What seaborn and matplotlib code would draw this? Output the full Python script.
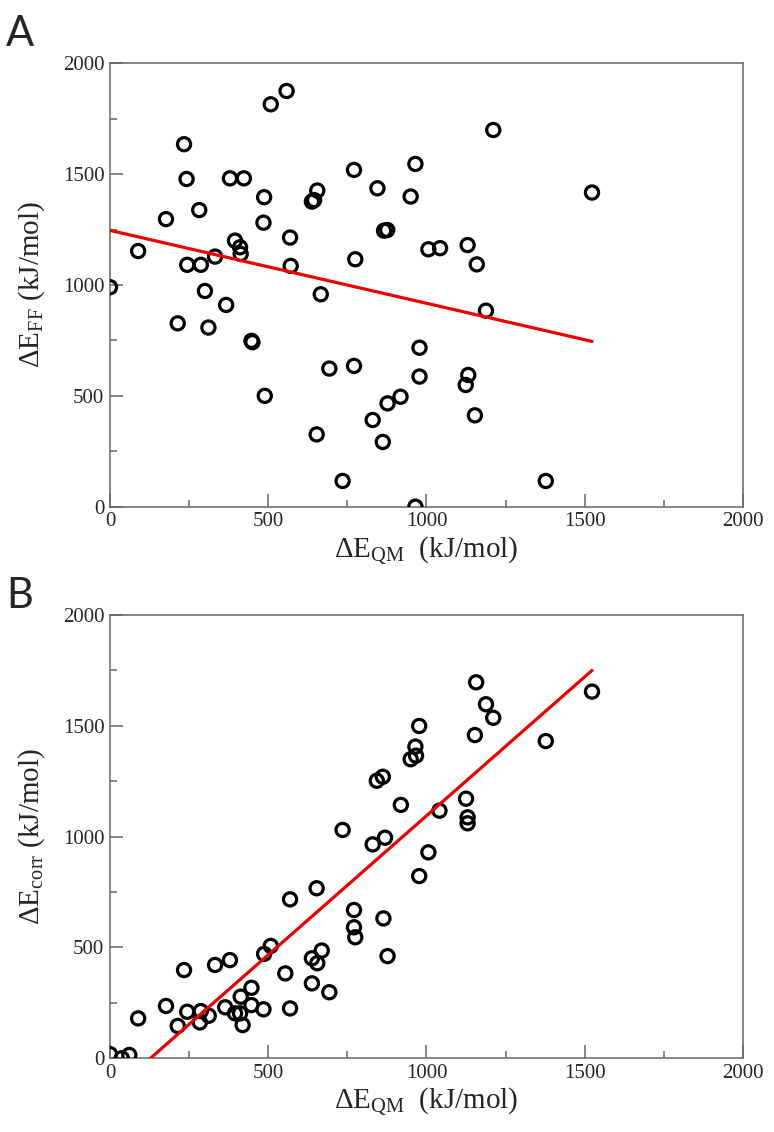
"""
Two-panel scatter: force-field / corrected energies vs QM energies with linear fits.
"""
import numpy as np
import pandas as pd
import matplotlib
matplotlib.use("Agg")
import matplotlib.pyplot as plt
from matplotlib.ticker import MultipleLocator
import seaborn as sns

# Panel A: dE_QM vs dE_FF (kJ/mol)
qm_a = [558, 508, 234, 242, 379, 423, 771, 965, 845, 950, 655, 638, 645, 487,
        282, 177, 485, 866, 876, 569, 395, 411, 413, 89, 332, 775, 1006, 1043,
        1130, 1159, 1211, 1523, 244, 287, 571, 0, 300, 367, 666, 214, 311, 447,
        450, 978, 693, 771, 978, 489, 918, 877, 830, 653, 862, 735, 965, 1188,
        1132, 1124, 1153, 1377]
ff_a = [1875, 1815, 1635, 1478, 1481, 1481, 1519, 1546, 1436, 1399, 1426, 1376,
        1383, 1396, 1338, 1297, 1281, 1245, 1248, 1214, 1200, 1170, 1140, 1153,
        1128, 1116, 1161, 1166, 1180, 1093, 1699, 1417, 1091, 1091, 1086, 990,
        973, 910, 958, 827, 808, 748, 742, 717, 623, 635, 587, 500, 496, 466,
        391, 326, 292, 116, 0, 884, 594, 549, 412, 116]

# Panel B: dE_QM vs dE_corr (kJ/mol)
qm_b = [977, 965, 967, 950, 862, 843, 919, 735, 830, 869, 1006, 1041, 1157,
        1188, 1211, 1153, 1523, 1377, 1125, 1130, 1130, 977, 653, 569, 771, 864,
        771, 775, 877, 508, 487, 669, 638, 655, 554, 638, 693, 379, 332, 234,
        447, 413, 447, 364, 177, 244, 287, 312, 284, 395, 411, 419, 485, 569,
        214, 89, 0, 37, 61]
corr_b = [1499, 1406, 1365, 1349, 1270, 1252, 1143, 1030, 965, 995, 929, 1117,
          1696, 1597, 1536, 1458, 1654, 1431, 1171, 1087, 1060, 822, 767, 717,
          669, 631, 591, 546, 461, 507, 471, 486, 451, 429, 383, 338, 298, 443,
          421, 398, 318, 278, 240, 230, 236, 210, 213, 192, 162, 203, 203, 150,
          221, 225, 146, 180, 19, 0, 15]

df_a = pd.DataFrame({"qm": qm_a, "val": ff_a})
df_b = pd.DataFrame({"qm": qm_b, "val": corr_b})

sns.set_style("white")
plt.rcParams["font.family"] = ["Liberation Serif", "DejaVu Serif"]
plt.rcParams["mathtext.fontset"] = "custom"
plt.rcParams["mathtext.rm"] = "Liberation Serif"
plt.rcParams["mathtext.it"] = "Liberation Serif:italic"

fig = plt.figure(figsize=(7.74, 11.32), dpi=100)
ax_a = fig.add_axes([0.1421, 0.5524, 0.8178, 0.3917])
ax_b = fig.add_axes([0.1421, 0.0651, 0.8178, 0.3917])

spine_col = "#666666"
panels = [(ax_a, df_a, "ΔE$_{\\mathrm{FF}}$ (kJ/mol)", "A", 0.987),
          (ax_b, df_b, "ΔE$_{\\mathrm{corr}}$ (kJ/mol)", "B", 0.490)]

for ax, df, ylab, letter, ytxt in panels:
    sns.regplot(data=df, x="qm", y="val", ax=ax, ci=None, truncate=True,
                scatter_kws=dict(s=90, facecolors="none", edgecolors="black",
                                 linewidths=2.3, alpha=1, zorder=3),
                line_kws=dict(color="#ee0000", lw=2.3, zorder=4))
    ax.set_xlim(0, 2000)
    ax.set_ylim(0, 2000)
    ax.xaxis.set_major_locator(MultipleLocator(500))
    ax.yaxis.set_major_locator(MultipleLocator(500))
    ax.xaxis.set_minor_locator(MultipleLocator(250))
    ax.yaxis.set_minor_locator(MultipleLocator(250))
    ax.tick_params(which="both", direction="in", top=False, right=False,
                   bottom=True, left=True, color=spine_col, width=1.1,
                   labelsize=15, pad=4)
    ax.tick_params(which="major", length=9.5)
    ax.tick_params(which="minor", length=5)
    for sp in ax.spines.values():
        sp.set_color(spine_col)
        sp.set_linewidth(1.1)
    ax.set_xlabel("ΔE$_{\\mathrm{QM}}$  (kJ/mol)", fontsize=21)
    ax.set_ylabel(ylab, fontsize=21)
    ax.xaxis.set_label_coords(0.5, -0.062)
    ax.yaxis.set_label_coords(-0.10, 0.5)
    ax.grid(False)
    fig.text(0.008, ytxt, letter, fontsize=30, family=["Lato", "DejaVu Sans"],
             ha="left", va="top")

plt.savefig("out.png", dpi=100)
plt.close()
